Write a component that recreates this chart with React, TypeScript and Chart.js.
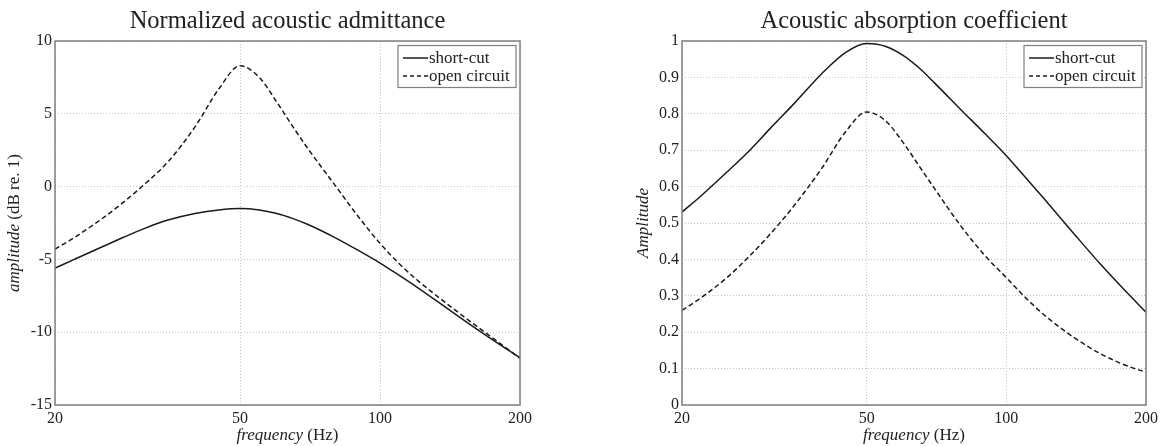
import React, { useEffect, useRef } from "react";
import { Chart, registerables } from "chart.js";

Chart.register(...registerables);

const freqs = [20, 22, 25, 28, 31, 35, 40, 45, 50, 55, 60, 65, 70, 80, 90, 100, 110, 120, 140, 160, 180, 200];
const admShortCut = [-5.6, -5.0, -4.2, -3.5, -2.9, -2.3, -1.85, -1.6, -1.5, -1.6, -1.85, -2.2, -2.6, -3.5, -4.4, -5.25, -6.1, -6.9, -8.4, -9.7, -10.8, -11.75];
const admOpenCircuit = [-4.3, -3.5, -2.3, -1.1, 0.1, 1.7, 4.1, 6.7, 8.3, 7.5, 5.8, 4.1, 2.6, 0.1, -2.1, -3.9, -5.3, -6.4, -8.1, -9.5, -10.7, -11.8];
const absShortCut = [0.53, 0.575, 0.64, 0.70, 0.76, 0.83, 0.91, 0.968, 0.993, 0.985, 0.96, 0.925, 0.885, 0.81, 0.745, 0.685, 0.625, 0.57, 0.47, 0.385, 0.315, 0.255];
const absOpenCircuit = [0.26, 0.295, 0.35, 0.41, 0.47, 0.55, 0.65, 0.75, 0.805, 0.78, 0.72, 0.655, 0.595, 0.49, 0.41, 0.35, 0.295, 0.25, 0.185, 0.14, 0.11, 0.09];

const xTickValues = [20, 50, 100, 200];
const seriesNames = ["short-cut", "open circuit"];

const SERIF = '"Liberation Serif", "Times New Roman", serif';
const TEXT = "#222222";

type Part = { t: string; italic: boolean };

function drawMixed(ctx: CanvasRenderingContext2D, parts: Part[], size: number, cx: number, y: number) {
  const widths = parts.map((p) => {
    ctx.font = `${p.italic ? "italic " : ""}${size}px ${SERIF}`;
    return ctx.measureText(p.t).width;
  });
  const total = widths.reduce((a, b) => a + b, 0);
  let x = cx - total / 2;
  ctx.textAlign = "left";
  parts.forEach((p, i) => {
    ctx.font = `${p.italic ? "italic " : ""}${size}px ${SERIF}`;
    ctx.fillText(p.t, x, y);
    x += widths[i];
  });
}

type Cfg = {
  title: string;
  yTitle: Part[];
  yTitleX: number;
};

function makeOverlay(cfg: Cfg) {
  return {
    id: "overlay",
    afterDraw(chart: any) {
      const ctx: CanvasRenderingContext2D = chart.ctx;
      const a = chart.chartArea;
      ctx.save();
      ctx.setLineDash([]);
      ctx.strokeStyle = "#7f7f7f";
      ctx.lineWidth = 1.5;
      ctx.strokeRect(a.left, a.top, a.right - a.left, a.bottom - a.top);

      ctx.fillStyle = TEXT;
      ctx.textBaseline = "alphabetic";
      ctx.font = `24.5px ${SERIF}`;
      ctx.textAlign = "center";
      ctx.fillText(cfg.title, (a.left + a.right) / 2, 28);

      drawMixed(ctx, [{ t: "frequency", italic: true }, { t: " (Hz)", italic: false }], 17, (a.left + a.right) / 2, 440);

      ctx.save();
      ctx.translate(cfg.yTitleX, (a.top + a.bottom) / 2);
      ctx.rotate(-Math.PI / 2);
      drawMixed(ctx, cfg.yTitle, 17, 0, 0);
      ctx.restore();

      // legend
      const bw = 118;
      const bh = 42;
      const bx = a.right - 4 - bw;
      const by = a.top + 4.5;
      ctx.fillStyle = "#ffffff";
      ctx.fillRect(bx, by, bw, bh);
      ctx.strokeStyle = "#7f7f7f";
      ctx.lineWidth = 1.2;
      ctx.strokeRect(bx, by, bw, bh);
      const rows = [by + 12.5, by + 30.5];
      rows.forEach((ry, i) => {
        ctx.strokeStyle = "#1e1e1e";
        ctx.lineWidth = 1.5;
        ctx.setLineDash(i === 0 ? [] : [4, 3]);
        ctx.beginPath();
        ctx.moveTo(bx + 5, ry);
        ctx.lineTo(bx + 30, ry);
        ctx.stroke();
        ctx.setLineDash([]);
        ctx.fillStyle = TEXT;
        ctx.font = `17px ${SERIF}`;
        ctx.textAlign = "left";
        ctx.textBaseline = "middle";
        ctx.fillText(seriesNames[i], bx + 31, ry + 1);
      });
      ctx.restore();
    },
  };
}

function buildChart(
  canvas: HTMLCanvasElement,
  solid: number[],
  dashed: number[],
  yMin: number,
  yMax: number,
  yStep: number,
  leftWidth: number,
  rightPad: number,
  cfg: Cfg
) {
  const toPts = (arr: number[]) => freqs.map((f, i) => ({ x: f, y: arr[i] }));
  const ds = (arr: number[], dash: number[], label: string) => ({
    label,
    data: toPts(arr),
    showLine: true,
    borderColor: "#1a1a1a",
    borderWidth: 1.5,
    borderDash: dash,
    pointRadius: 0,
    fill: false,
    cubicInterpolationMode: "monotone" as const,
  });
  return new Chart(canvas, {
    type: "scatter",
    data: {
      datasets: [ds(solid, [], seriesNames[0]), ds(dashed, [5, 3], seriesNames[1])],
    },
    options: {
      animation: false,
      responsive: false,
      layout: { padding: { top: 41, right: rightPad, left: 0, bottom: 0 } },
      plugins: { legend: { display: false }, tooltip: { enabled: false }, title: { display: false } },
      scales: {
        x: {
          type: "logarithmic",
          min: 20,
          max: 200,
          afterBuildTicks: (scale: any) => {
            scale.ticks = xTickValues.map((v) => ({ value: v }));
          },
          afterFit: (scale: any) => {
            scale.height = 41;
          },
          ticks: {
            autoSkip: false,
            maxRotation: 0,
            padding: 4,
            color: TEXT,
            font: { family: SERIF, size: 16 },
            callback: (v: any) => String(v),
          },
          grid: { color: "#c4c4c4", lineWidth: 1, drawTicks: false },
          border: { display: false, dash: [1, 2] },
        },
        y: {
          type: "linear",
          min: yMin,
          max: yMax,
          afterFit: (scale: any) => {
            scale.width = leftWidth;
          },
          ticks: {
            stepSize: yStep,
            padding: 3,
            color: TEXT,
            font: { family: SERIF, size: 16 },
            callback: (v: any) => String(Math.round(Number(v) * 10) / 10),
          },
          grid: { color: "#c4c4c4", lineWidth: 1, drawTicks: false },
          border: { display: false, dash: [1, 2] },
        },
      },
    },
    plugins: [makeOverlay(cfg)],
  });
}

export default function App() {
  const leftRef = useRef<HTMLCanvasElement>(null);
  const rightRef = useRef<HTMLCanvasElement>(null);

  useEffect(() => {
    const c1 = buildChart(leftRef.current!, admShortCut, admOpenCircuit, -15, 10, 5, 55, 61, {
      title: "Normalized acoustic admittance",
      yTitle: [
        { t: "amplitude", italic: true },
        { t: " (dB re. 1)", italic: false },
      ],
      yTitleX: 19,
    });
    const c2 = buildChart(rightRef.current!, absShortCut, absOpenCircuit, 0, 1, 0.1, 101, 16, {
      title: "Acoustic absorption coefficient",
      yTitle: [{ t: "Amplitude", italic: true }],
      yTitleX: 67,
    });
    return () => {
      c1.destroy();
      c2.destroy();
    };
  }, []);

  return (
    <div style={{ position: "fixed", left: 0, top: 0, width: 1162, height: 446, background: "#ffffff" }}>
      <canvas ref={leftRef} width={581} height={446} style={{ position: "absolute", left: 0, top: 0, width: 581, height: 446 }} />
      <canvas ref={rightRef} width={581} height={446} style={{ position: "absolute", left: 581, top: 0, width: 581, height: 446 }} />
    </div>
  );
}
